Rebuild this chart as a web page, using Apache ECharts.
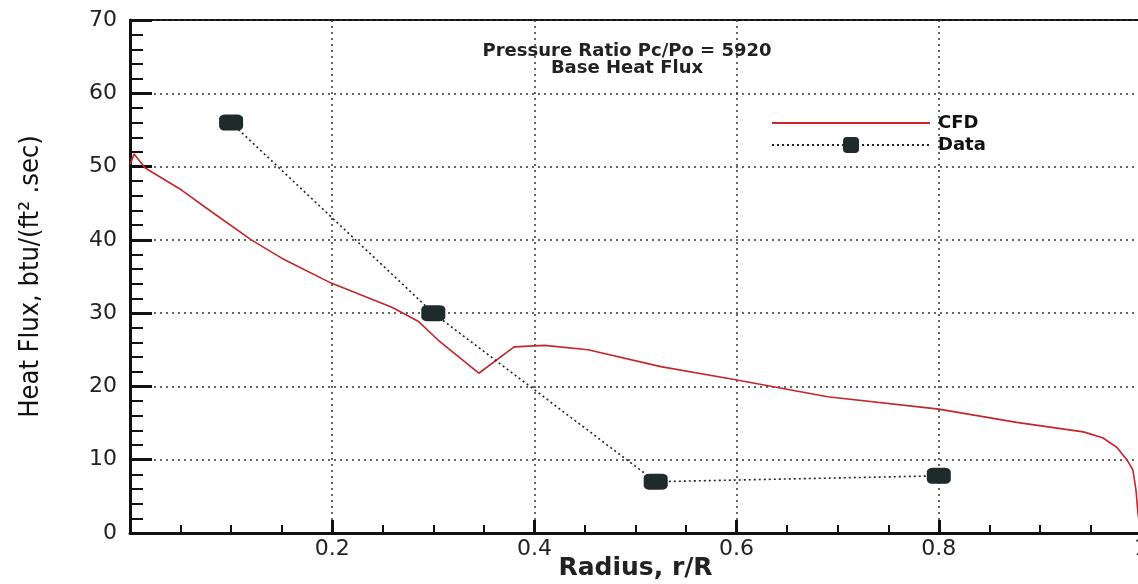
<!DOCTYPE html>
<html>
<head>
<meta charset="utf-8">
<title>Base Heat Flux</title>
<script src="https://cdn.jsdelivr.net/npm/echarts@6/dist/echarts.min.js"></script>
<style>
  html, body { margin: 0; padding: 0; background: #fff; }
  #main { width: 1138px; height: 584px; }
</style>
</head>
<body>
<div id="main"></div>
<script>
// CFD curve, r/R vs heat flux
var cfdR    = [0.000, 0.004, 0.015, 0.051, 0.081, 0.120, 0.150, 0.199, 0.259, 0.285, 0.305, 0.345, 0.380, 0.410, 0.453, 0.525, 0.599, 0.690, 0.800, 0.877, 0.943, 0.962, 0.976, 0.986, 0.992, 0.995, 0.997, 1.000];
var cfdQ    = [50.3, 51.7, 49.8, 46.8, 43.8, 40.0, 37.5, 34.1, 30.8, 28.9, 26.3, 21.8, 25.4, 25.6, 25.0, 22.7, 20.9, 18.6, 16.9, 15.1, 13.8, 13.0, 11.7, 10.0, 8.6, 5.9, 2.7, 0.0];
// measured points
var dataR   = [0.10, 0.30, 0.52, 0.80];
var dataQ   = [56.0, 30.0, 7.0, 7.8];

var titleLines = ['Pressure Ratio Pc/Po = 5920', 'Base Heat Flux'];

function pairs(xs, ys) {
    var out = [];
    for (var i = 0; i < xs.length; i++) {
        out.push([xs[i], ys[i]]);
    }
    return out;
}

var chart = echarts.init(document.getElementById('main'));

var option = {
    backgroundColor: '#ffffff',
    animation: false,
    title: {
        text: titleLines.join('\n'),
        left: 622,
        top: 38,
        textAlign: 'center',
        textStyle: {
            fontFamily: 'DejaVu Sans',
            fontWeight: 'bold',
            fontSize: 18,
            lineHeight: 17,
            color: '#222'
        }
    },
    legend: {
        orient: 'vertical',
        left: 766,
        top: 109,
        itemWidth: 158,
        itemHeight: 20,
        itemGap: 4,
        data: [
            { name: 'CFD', itemStyle: { opacity: 0 } },
            { name: 'Data' }
        ],
        textStyle: {
            fontFamily: 'DejaVu Sans',
            fontWeight: 'bold',
            fontSize: 18,
            color: '#111',
            padding: [0, 0, 0, 3]
        }
    },
    grid: {
        left: 130,
        top: 20,
        right: -3,
        bottom: 51,
        outerBoundsMode: 'none',
        show: true,
        borderColor: '#111',
        borderWidth: 2
    },
    xAxis: {
        type: 'value',
        min: 0,
        max: 1,
        interval: 0.2,
        name: 'Radius, r/R',
        nameLocation: 'middle',
        nameGap: 23,
        nameMoveOverlap: false,
        nameTextStyle: {
            fontFamily: 'DejaVu Sans',
            fontWeight: 'bold',
            fontSize: 25,
            color: '#222'
        },
        axisLine: { lineStyle: { color: '#111', width: 3 } },
        axisTick: { inside: true, length: 13, lineStyle: { color: '#111', width: 3 } },
        minorTick: { show: true, splitNumber: 4, length: 8, lineStyle: { color: '#111', width: 2 } },
        axisLabel: {
            margin: 5,
            fontFamily: 'DejaVu Sans',
            fontSize: 22,
            color: '#222',
            formatter: function (v) { return v === 0 ? '' : String(+v.toFixed(1)); }
        },
        splitLine: { show: true, lineStyle: { color: '#333', width: 1.5, type: [2, 4] } }
    },
    yAxis: {
        type: 'value',
        min: 0,
        max: 70,
        interval: 10,
        name: 'Heat Flux, btu/(ft² .sec)',
        nameLocation: 'middle',
        nameRotate: 90,
        nameGap: 86,
        nameTextStyle: {
            fontFamily: 'DejaVu Sans Condensed, DejaVu Sans',
            fontSize: 27,
            color: '#111'
        },
        axisLine: { lineStyle: { color: '#111', width: 3 } },
        axisTick: { inside: true, length: 22, lineStyle: { color: '#111', width: 3 } },
        minorTick: { show: true, splitNumber: 5, length: 13, lineStyle: { color: '#111', width: 2 } },
        axisLabel: {
            margin: 13,
            fontFamily: 'DejaVu Sans',
            fontSize: 22,
            color: '#222'
        },
        splitLine: { show: true, lineStyle: { color: '#333', width: 1.5, type: [2, 4] } }
    },
    series: [
        {
            name: 'CFD',
            type: 'line',
            data: pairs(cfdR, cfdQ),
            symbol: 'none',
            color: '#c4262d',
            lineStyle: { color: '#c4262d', width: 1.6 },
            z: 3
        },
        {
            name: 'Data',
            type: 'line',
            data: pairs(dataR, dataQ),
            symbol: 'roundRect',
            symbolSize: [24, 16],
            color: '#1f2a2a',
            itemStyle: { color: '#1f2a2a' },
            lineStyle: { color: '#222', width: 1.6, type: [2, 3] },
            z: 4
        }
    ]
};

chart.setOption(option);
</script>
</body>
</html>
